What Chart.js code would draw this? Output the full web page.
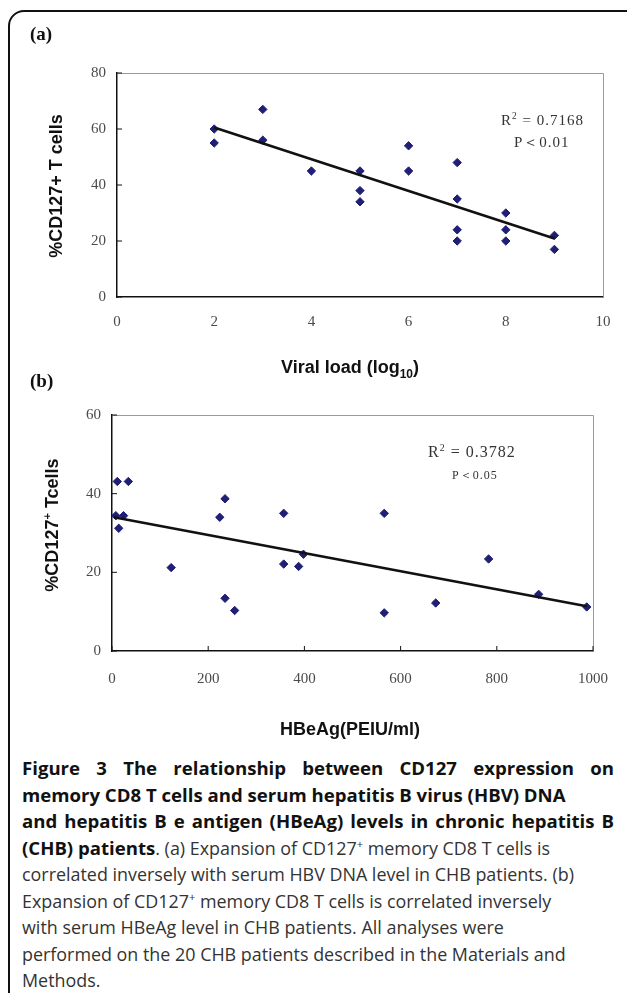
<!DOCTYPE html>
<html lang="en">
<head>
  <meta charset="UTF-8" />
  <title>Figure 3 - CD127 vs HBV DNA / HBeAg</title>
  <script src="https://cdn.jsdelivr.net/npm/chart.js"></script>
  <style>
    html, body { margin: 0; padding: 0; background: #fff; }
    body { width: 627px; height: 993px; position: relative; overflow: hidden; }
    .frame { position: absolute; left: 8px; top: 10px; width: 700px; height: 1100px;
             border: 2px solid #111; border-radius: 16px; box-sizing: border-box; }
    canvas { position: absolute; left: 0; }
    .txt { position: absolute; white-space: nowrap; color: #111; }
    .panel { font-family: "Liberation Serif", "DejaVu Serif", serif; font-weight: bold; font-size: 19px; }
    .ytitle { font-family: "Liberation Sans", Arial, sans-serif; font-weight: bold; font-size: 18px;
              transform: translate(-50%, -50%) rotate(-90deg); }
    .xtitle { font-family: "Liberation Sans", Arial, sans-serif; font-weight: bold; font-size: 18px;
              transform: translateX(-50%); }
    .note { font-family: "Liberation Serif", "DejaVu Serif", serif; color: #333; letter-spacing: 1px; }
    .caption { position: absolute; left: 22px; top: 755px; width: 592px;
               font-family: "Open Sans", "Noto Sans", sans-serif; font-size: 17.9px; line-height: 26.5px; color: #333; }
    .caption div { white-space: nowrap; }
    .caption .j { text-align: justify; text-align-last: justify; white-space: normal; }
    .caption b { color: #111; font-size: 18.6px; }
    sup { font-size: 0.62em; line-height: 0; }
  </style>
</head>
<body>
  <div class="frame"></div>

  <canvas id="chartA"></canvas>
  <canvas id="chartB"></canvas>

  <div class="txt panel" style="left:30px; top:23px;">(a)</div>
  <div class="txt ytitle" style="left:56px; top:186px;">%CD127+ T cells</div>
  <div class="txt xtitle" style="left:350px; top:357px;">Viral load (log<sub style="font-size:12px;">10</sub>)</div>
  <div class="txt note" style="left:501px; top:112px; font-size:15px;">R<sup>2</sup> = 0.7168</div>
  <div class="txt note" style="left:514px; top:133px; font-size:15px;">P＜0.01</div>

  <div class="txt panel" style="left:30px; top:370px;">(b)</div>
  <div class="txt ytitle" style="left:52px; top:525px;">%CD127<sup>+</sup> Tcells</div>
  <div class="txt xtitle" style="left:350px; top:719px;">HBeAg(PEIU/ml)</div>
  <div class="txt note" style="left:428px; top:443px; font-size:16px;">R<sup>2</sup> = 0.3782</div>
  <div class="txt note" style="left:452px; top:467px; font-size:12px;">P＜0.05</div>

  <div class="caption">
    <div class="j"><b>Figure 3 The relationship between CD127 expression on</b></div>
    <div><b>memory CD8 T cells and serum hepatitis B virus (HBV) DNA</b></div>
    <div class="j"><b>and hepatitis B e antigen (HBeAg) levels in chronic hepatitis B</b></div>
    <div><b>(CHB) patients</b>. (a) Expansion of CD127<sup>+</sup> memory CD8 T cells is</div>
    <div>correlated inversely with serum HBV DNA level in CHB patients. (b)</div>
    <div>Expansion of CD127<sup>+</sup> memory CD8 T cells is correlated inversely</div>
    <div>with serum HBeAg level in CHB patients. All analyses were</div>
    <div>performed on the 20 CHB patients described in the Materials and</div>
    <div>Methods.</div>
  </div>

  <script>
    // panel (a): viral load (log10) vs %CD127+
    const viralLoad = [2, 2, 3, 3, 4, 5, 5, 5, 6, 6, 7, 7, 7, 7, 8, 8, 8, 9, 9];
    const cd127A    = [60, 55, 67, 56, 45, 45, 38, 34, 54, 45, 48, 35, 24, 20, 30, 24, 20, 22, 17];
    const trendAX   = [2, 9];
    const trendAY   = [60.5, 20.9];
    const ticksAX   = [0, 2, 4, 6, 8, 10];
    const ticksAY   = [0, 20, 40, 60, 80];

    // panel (b): HBeAg vs %CD127+
    const hbeag  = [11, 34, 8, 24, 14, 123, 224, 235, 235, 255, 357, 357, 388, 398, 566, 566, 673, 783, 887, 987];
    const cd127B = [43.1, 43.1, 34.4, 34.4, 31.2, 21.2, 34.0, 38.7, 13.4, 10.3, 35.0, 22.1, 21.5, 24.6, 35.0, 9.7, 12.2, 23.4, 14.4, 11.2];
    const trendBX = [4, 987];
    const trendBY = [34.0, 11.4];
    const ticksBX = [0, 200, 400, 600, 800, 1000];
    const ticksBY = [0, 20, 40, 60];

    const pts = (xs, ys) => xs.map((x, i) => ({ x, y: ys[i] }));

    // gray top/right border and small inside tick marks, excel style
    const plotFrame = {
      id: 'plotFrame',
      beforeDatasetsDraw(chart, args, opts) {
        const { ctx, chartArea: a, scales } = chart;
        ctx.save();
        ctx.strokeStyle = '#9a9a9a';
        ctx.lineWidth = 1;
        ctx.beginPath();
        ctx.moveTo(a.left, a.top + 0.5);
        ctx.lineTo(a.right + 0.5, a.top + 0.5);
        ctx.lineTo(a.right + 0.5, a.bottom);
        ctx.stroke();
        ctx.strokeStyle = '#111';
        ctx.beginPath();
        opts.yTicks.forEach(v => {
          const y = scales.y.getPixelForValue(v);
          ctx.moveTo(a.left, y);
          ctx.lineTo(a.left + 5, y);
        });
        (opts.xTicks || []).forEach(v => {
          const x = scales.x.getPixelForValue(v);
          ctx.moveTo(x, a.bottom);
          ctx.lineTo(x, a.bottom - 5);
        });
        ctx.stroke();
        ctx.restore();
      }
    };

    function makeChart(id, top, height, pad, xCfg, yCfg, scatter, trend, frameOpts) {
      const el = document.getElementById(id);
      el.style.top = top + 'px';
      el.style.width = '627px';
      el.style.height = height + 'px';
      const tickFont = { family: '"Liberation Serif", "DejaVu Serif", serif', size: 15 };
      return new Chart(el, {
        type: 'scatter',
        data: {
          datasets: [
            {
              type: 'line',
              data: trend,
              borderColor: '#111',
              borderWidth: 2.6,
              pointRadius: 0,
              fill: false,
              order: 0
            },
            {
              data: scatter,
              pointStyle: 'rectRot',
              pointRadius: 4.2,
              backgroundColor: '#1f1f76',
              borderColor: '#1f1f76',
              borderWidth: 1,
              order: 1
            }
          ]
        },
        options: {
          responsive: false,
          animation: false,
          layout: { autoPadding: false, padding: pad },
          plugins: { legend: { display: false }, tooltip: { enabled: false }, plotFrame: frameOpts },
          scales: {
            x: {
              type: 'linear',
              min: xCfg.ticks[0],
              max: xCfg.ticks[xCfg.ticks.length - 1],
              afterBuildTicks: s => { s.ticks = xCfg.ticks.map(v => ({ value: v })); },
              afterFit: s => { s.height = 40; },
              grid: { display: false, drawTicks: false },
              border: { display: true, color: '#111', width: 1.5 },
              ticks: { font: tickFont, color: '#4a4a4a', padding: xCfg.pad, maxRotation: 0,
                       callback: v => String(v) }
            },
            y: {
              type: 'linear',
              min: yCfg.ticks[0],
              max: yCfg.ticks[yCfg.ticks.length - 1],
              afterBuildTicks: s => { s.ticks = yCfg.ticks.map(v => ({ value: v })); },
              afterFit: s => { s.width = 40; },
              grid: { display: false, drawTicks: false },
              border: { display: true, color: '#111', width: 1.5 },
              ticks: { font: tickFont, color: '#4a4a4a', padding: 11, callback: v => String(v) }
            }
          }
        },
        plugins: [plotFrame]
      });
    }

    // plot area (a): left 117, right 603, top 73, bottom 297
    makeChart('chartA', 0, 345,
      { left: 77, right: 24, top: 73, bottom: 8 },
      { ticks: ticksAX, pad: 16 }, { ticks: ticksAY },
      pts(viralLoad, cd127A), pts(trendAX, trendAY),
      { yTicks: ticksAY });

    // plot area (b): left 112, right 594, top 415, bottom 651
    makeChart('chartB', 360, 385,
      { left: 72, right: 33, top: 55, bottom: 54 },
      { ticks: ticksBX, pad: 19 }, { ticks: ticksBY },
      pts(hbeag, cd127B), pts(trendBX, trendBY),
      { yTicks: ticksBY, xTicks: ticksBX });
  </script>
</body>
</html>
